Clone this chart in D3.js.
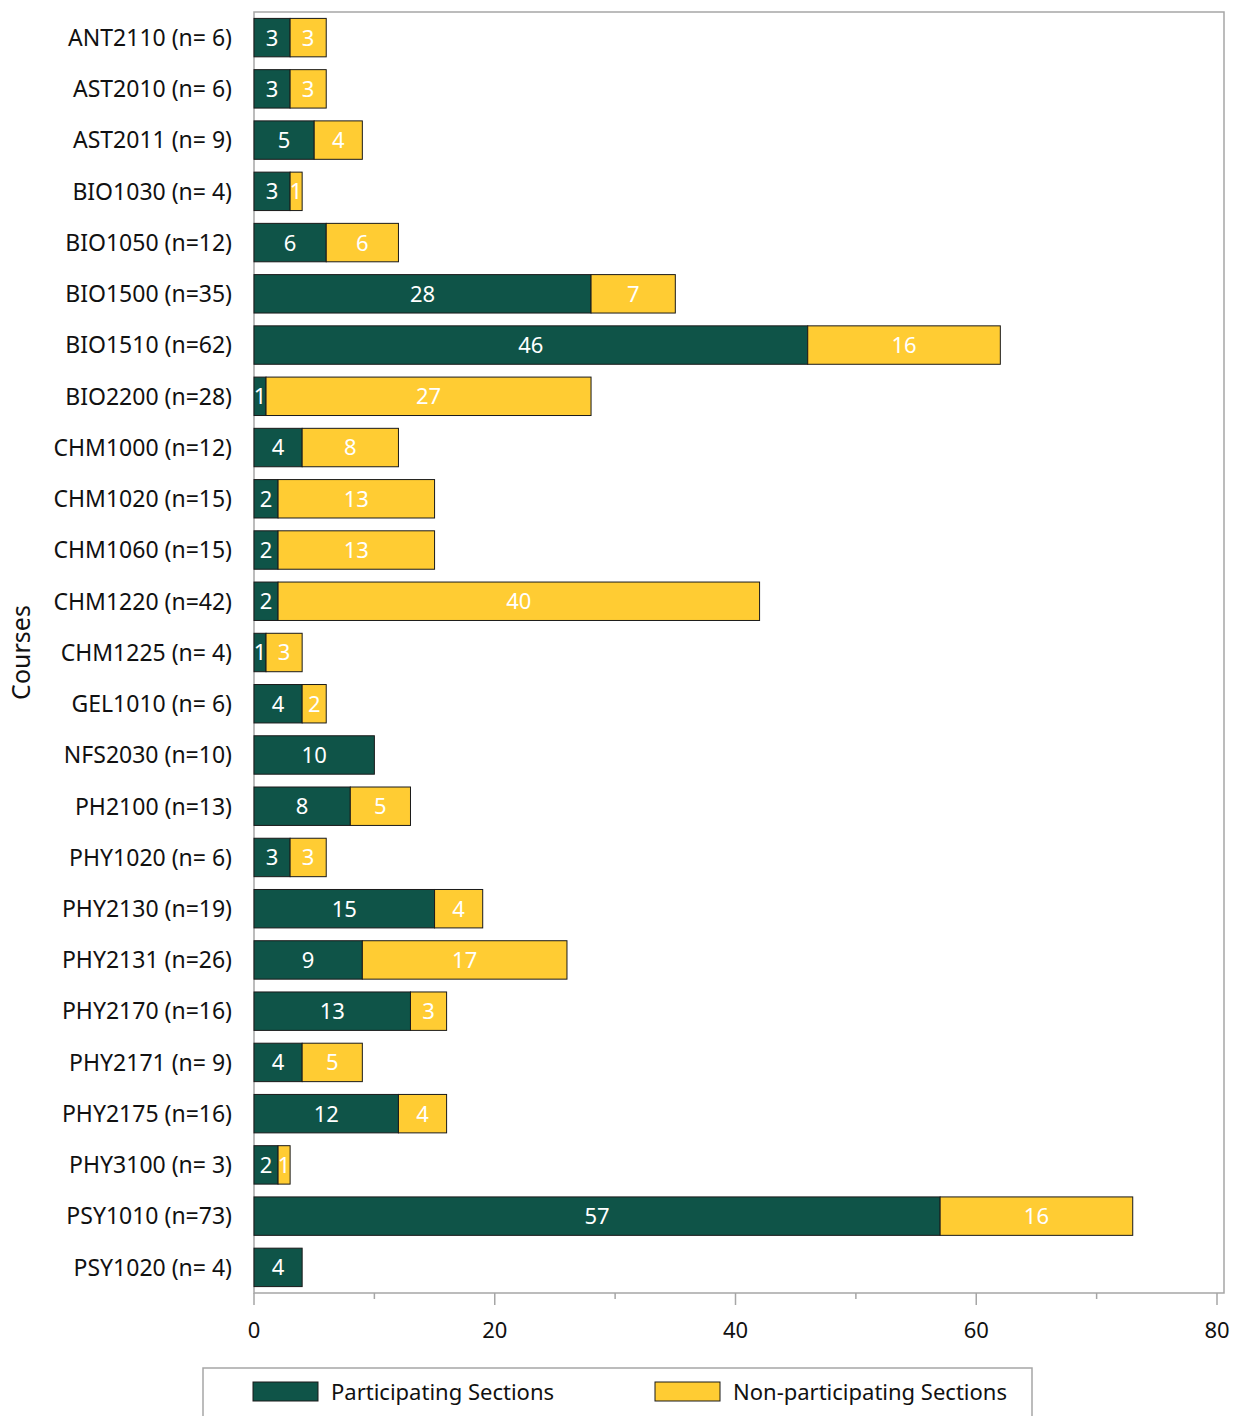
<!DOCTYPE html>
<html>
<head>
<meta charset="utf-8">
<script src="https://cdn.jsdelivr.net/npm/d3@7"></script>
<style>
body { margin: 0; background: #fff; }
svg text { font-family: "Noto Sans", "Open Sans", sans-serif; }
</style>
</head>
<body>
<div id="app"></div>
<script>
const courses = ['ANT2110 (n= 6)', 'AST2010 (n= 6)', 'AST2011 (n= 9)', 'BIO1030 (n= 4)', 'BIO1050 (n=12)',
  'BIO1500 (n=35)', 'BIO1510 (n=62)', 'BIO2200 (n=28)', 'CHM1000 (n=12)', 'CHM1020 (n=15)',
  'CHM1060 (n=15)', 'CHM1220 (n=42)', 'CHM1225 (n= 4)', 'GEL1010 (n= 6)', 'NFS2030 (n=10)',
  'PH2100 (n=13)', 'PHY1020 (n= 6)', 'PHY2130 (n=19)', 'PHY2131 (n=26)', 'PHY2170 (n=16)',
  'PHY2171 (n= 9)', 'PHY2175 (n=16)', 'PHY3100 (n= 3)', 'PSY1010 (n=73)', 'PSY1020 (n= 4)']
const participating = [3, 3, 5, 3, 6, 28, 46, 1, 4, 2, 2, 2, 1, 4, 10, 8, 3, 15, 9, 13, 4, 12, 2, 57, 4]
const nonParticipating = [3, 3, 4, 1, 6, 7, 16, 27, 8, 13, 13, 40, 3, 2, 0, 5, 3, 4, 17, 3, 5, 4, 1, 16, 0]
const seriesNames = ['Participating Sections', 'Non-participating Sections']
const colors = ['#0f5448', '#ffcc33']
const xTicks = [0, 20, 40, 60, 80]
const xMinorTicks = [10, 30, 50, 70]

const W = 1233, H = 1416
const pLeft = 254, pRight = 1224, pTop = 12, pBottom = 1293

const svg = d3.select('#app').append('svg').attr('width', W).attr('height', H)

const x = d3.scaleLinear().domain([0, 80]).range([pLeft, 1217])
const y = d3.scaleBand().domain(courses).range([pTop, pBottom]).paddingInner(0.25).paddingOuter(0.125)

// frame
svg.append('rect')
  .attr('x', pLeft).attr('y', pTop).attr('width', pRight - pLeft).attr('height', pBottom - pTop)
  .attr('fill', 'none').attr('stroke', '#a6a6a6').attr('stroke-width', 1.5)

const rows = courses.map((c, i) => ({ course: c, vals: [participating[i], nonParticipating[i]] }))

const g = svg.append('g')
rows.forEach(r => {
  let x0 = 0
  r.vals.forEach((v, k) => {
    if (!v) return
    g.append('rect')
      .attr('x', x(x0)).attr('y', y(r.course))
      .attr('width', x(x0 + v) - x(x0)).attr('height', y.bandwidth())
      .attr('fill', colors[k]).attr('stroke', '#1a1a1a').attr('stroke-width', 1)
    g.append('text')
      .attr('x', (x(x0) + x(x0 + v)) / 2).attr('y', y(r.course) + y.bandwidth() / 2)
      .attr('dy', '0.36em').attr('text-anchor', 'middle')
      .attr('fill', '#fff').attr('font-size', 22)
      .text(v)
    x0 += v
  })
})

// y labels
svg.append('g').selectAll('text').data(courses).enter().append('text')
  .attr('x', 232).attr('y', d => y(d) + y.bandwidth() / 2)
  .attr('dy', '0.36em').attr('text-anchor', 'end')
  .attr('font-size', 23).attr('fill', '#111')
  .text(d => d)

// x axis ticks
const ax = svg.append('g')
ax.selectAll('line.major').data(xTicks).enter().append('line')
  .attr('x1', d => x(d)).attr('x2', d => x(d)).attr('y1', pBottom).attr('y2', pBottom + 12)
  .attr('stroke', '#a6a6a6').attr('stroke-width', 1.5)
ax.selectAll('line.minor').data(xMinorTicks).enter().append('line')
  .attr('x1', d => x(d)).attr('x2', d => x(d)).attr('y1', pBottom).attr('y2', pBottom + 6)
  .attr('stroke', '#a6a6a6').attr('stroke-width', 1.5)
ax.selectAll('text').data(xTicks).enter().append('text')
  .attr('x', d => x(d)).attr('y', 1330).attr('dy', '0.36em')
  .attr('text-anchor', 'middle').attr('font-size', 22).attr('fill', '#111')
  .text(d => d)

// y title
svg.append('text')
  .attr('transform', `translate(30, ${(pTop + pBottom) / 2}) rotate(-90)`)
  .attr('text-anchor', 'middle').attr('font-size', 25).attr('fill', '#111')
  .text('Courses')

// legend
const lg = svg.append('g')
lg.append('rect').attr('x', 203).attr('y', 1368).attr('width', 829).attr('height', 70)
  .attr('fill', '#fff').attr('stroke', '#a6a6a6').attr('stroke-width', 1.5)
const legendX = [253, 655]
seriesNames.forEach((s, k) => {
  lg.append('rect').attr('x', legendX[k]).attr('y', 1382).attr('width', 65).attr('height', 19)
    .attr('fill', colors[k]).attr('stroke', '#1a1a1a').attr('stroke-width', 1)
  lg.append('text').attr('x', legendX[k] + 78).attr('y', 1392).attr('dy', '0.36em')
    .attr('font-size', 22).attr('fill', '#111').text(s)
})
</script>
</body>
</html>
